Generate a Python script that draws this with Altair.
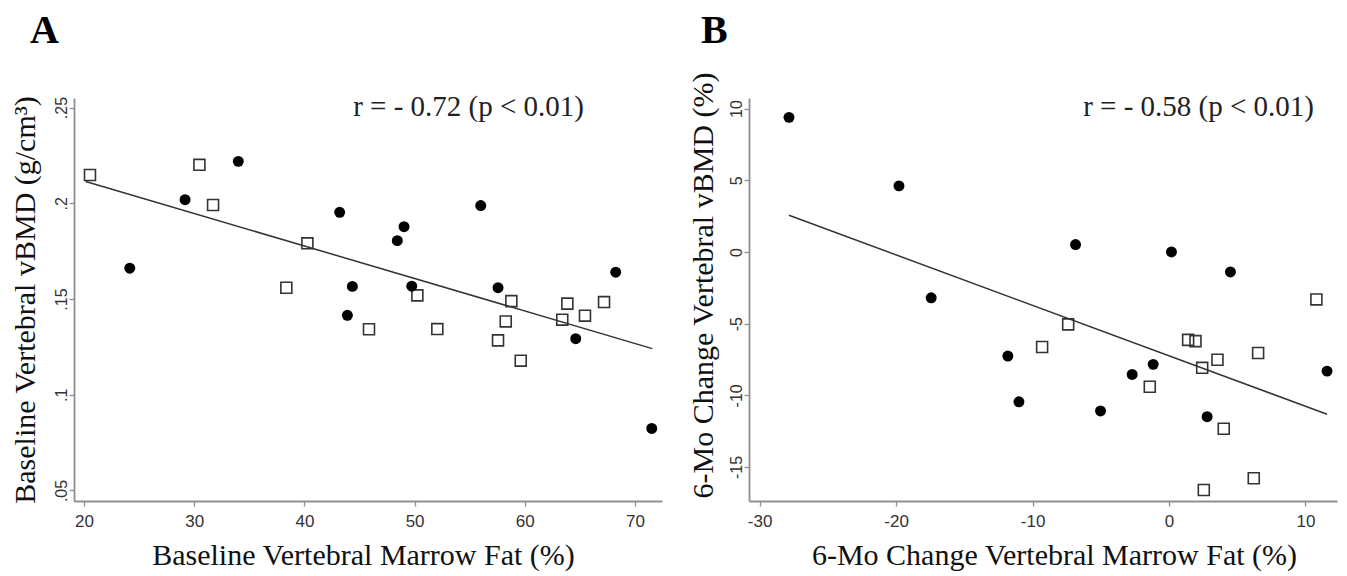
import altair as alt
import pandas as pd

# ---------------- Panel A data ----------------
a_circle_x = [24.15, 29.17, 34.0, 43.2, 43.9, 44.35, 48.43, 49.04, 49.74, 56.0, 57.57, 64.62, 68.25, 71.52]
a_circle_y = [0.1661, 0.2019, 0.2219, 0.1953, 0.1415, 0.1566, 0.1805, 0.1878, 0.1567, 0.1988, 0.1559, 0.1293, 0.164, 0.0824]
a_square_x = [20.54, 30.47, 31.71, 38.36, 40.27, 45.86, 50.25, 52.06, 57.57, 58.27, 58.78, 59.63, 63.4, 63.86, 65.46, 67.19]
a_square_y = [0.2148, 0.2201, 0.1991, 0.1559, 0.1791, 0.1342, 0.1519, 0.1343, 0.1284, 0.1383, 0.1489, 0.1178, 0.1392, 0.1476, 0.1413, 0.1484]
a_fit_x = [20.15, 71.57]
a_fit_y = [0.2114, 0.1241]
a_x_ticks = [20, 30, 40, 50, 60, 70]
a_x_labels = ["20", "30", "40", "50", "60", "70"]
a_y_ticks = [0.05, 0.1, 0.15, 0.2, 0.25]
a_y_labels = [".05", ".1", ".15", ".2", ".25"]
a_x_title = "Baseline Vertebral Marrow Fat (%)"
a_y_title = "Baseline Vertebral vBMD (g/cm\u00b3)"
a_note = "r = - 0.72 (p < 0.01)"

# ---------------- Panel B data ----------------
b_circle_x = [-27.85, -19.79, -17.43, -11.81, -11.0, -6.85, -5.02, -2.70, -1.16, 0.18, 2.79, 4.5, 11.58]
b_circle_y = [9.39, 4.61, -3.2, -7.26, -10.45, 0.52, -11.09, -8.54, -7.84, 0.0, -11.49, -1.39, -8.31]
b_square_x = [-9.3, -7.39, -1.41, 1.4, 1.94, 2.43, 2.55, 3.55, 4.01, 6.21, 6.53, 10.8]
b_square_y = [-6.63, -5.05, -9.4, -6.13, -6.22, -8.08, -16.6, -7.52, -12.33, -15.78, -7.05, -3.31]
b_fit_x = [-27.85, 11.58]
b_fit_y = [2.56, -11.32]
b_x_ticks = [-30, -20, -10, 0, 10]
b_x_labels = ["-30", "-20", "-10", "0", "10"]
b_y_ticks = [-15, -10, -5, 0, 5, 10]
b_y_labels = ["-15", "-10", "-5", "0", "5", "10"]
b_x_title = "6-Mo Change Vertebral Marrow Fat (%)"
b_y_title = "6-Mo Change Vertebral vBMD (%)"
b_note = "r = - 0.58 (p < 0.01)"

SERIF = "Liberation Serif"
SANS = "Liberation Sans"
W, H = 588, 403


def label_expr(ticks, labels):
    expr = "''"
    for t, l in reversed(list(zip(ticks, labels))):
        expr = f"datum.value == {t} ? '{l}' : ({expr})"
    return expr


def panel(cx, cy, sx, sy, fx, fy, xdom, ydom, xt, xl, yt, yl,
          xtitle, ytitle, note, letter, xtitle_x, ytitle_x, ytitle_y,
          note_x, letter_x):
    rows = []
    rows += [{"x": a, "y": b, "kind": "c"} for a, b in zip(cx, cy)]
    rows += [{"x": a, "y": b, "kind": "s"} for a, b in zip(sx, sy)]
    rows += [{"x": a, "y": b, "kind": "f"} for a, b in zip(fx, fy)]
    df = pd.DataFrame(rows)

    x_enc = alt.X("x:Q",
                  scale=alt.Scale(domain=xdom, nice=False, zero=False),
                  axis=alt.Axis(values=xt, labelExpr=label_expr(xt, xl),
                                title=xtitle, grid=False,
                                domainColor="#8f8f8f", domainWidth=1.8,
                                tickColor="#8f8f8f", tickWidth=1.3, tickSize=5,
                                labelFont=SANS, labelFontSize=17, labelColor="#333",
                                labelPadding=7, labelBaseline="top",
                                titleFont=SERIF, titleFontSize=30,
                                titleFontWeight="normal", titleColor="#111",
                                titleX=xtitle_x, titleY=63,
                                titleAlign="center", titleBaseline="alphabetic"))
    y_enc = alt.Y("y:Q",
                  scale=alt.Scale(domain=ydom, nice=False, zero=False),
                  axis=alt.Axis(values=yt, labelExpr=label_expr(yt, yl),
                                title=ytitle, grid=False,
                                domainColor="#8f8f8f", domainWidth=1.8,
                                tickColor="#8f8f8f", tickWidth=1.3, tickSize=5,
                                labelFont=SANS, labelFontSize=16, labelColor="#333",
                                labelAngle=270, labelAlign="center",
                                labelBaseline="alphabetic", labelPadding=3,
                                titleFont=SERIF, titleFontSize=30,
                                titleFontWeight="normal", titleColor="#111",
                                titleAngle=270, titleX=ytitle_x, titleY=ytitle_y,
                                titleAlign="center", titleBaseline="alphabetic"))
    base = alt.Chart(df).encode(x=x_enc, y=y_enc)
    fit = base.transform_filter("datum.kind == 'f'").mark_line(
        color="#333", strokeWidth=1.5)
    squares = base.transform_filter("datum.kind == 's'").mark_point(
        shape="square", filled=False, size=120, color="#333", strokeWidth=1.6,
        opacity=1)
    circles = base.transform_filter("datum.kind == 'c'").mark_point(
        shape="circle", filled=True, size=120, color="#000", opacity=1)

    note_layer = alt.Chart(pd.DataFrame({"t": [note]})).mark_text(
        font=SERIF, fontSize=29, color="#222", align="right",
        baseline="alphabetic").encode(
        text="t:N", x=alt.value(note_x), y=alt.value(18))
    letter_layer = alt.Chart(pd.DataFrame({"t": [letter]})).mark_text(
        font=SERIF, fontSize=40, fontWeight="bold", color="#000", align="left",
        baseline="alphabetic").encode(
        text="t:N", x=alt.value(letter_x), y=alt.value(-55))
    return alt.layer(fit, squares, circles, note_layer, letter_layer).properties(
        width=W, height=H)


pa = panel(a_circle_x, a_circle_y, a_square_x, a_square_y, a_fit_x, a_fit_y,
           [19.09, 72.45], [0.0445, 0.255], a_x_ticks, a_x_labels,
           a_y_ticks, a_y_labels, a_x_title, a_y_title, a_note, "A",
           289, -40, 201.5, 510, -44)
pb = panel(b_circle_x, b_circle_y, b_square_x, b_square_y, b_fit_x, b_fit_y,
           [-30.78, 12.31], [-17.37, 10.74], b_x_ticks, b_x_labels,
           b_y_ticks, b_y_labels, b_x_title, b_y_title, b_note, "B",
           305, -37, 187, 565, -48)

chart = alt.hconcat(pa, pb, spacing=87, bounds="flush").properties(
    padding={"left": 1, "top": 2, "right": 0, "bottom": 0},
    background="white",
).configure_view(stroke="transparent")

chart.save("out.html", embed_options={"renderer": "svg", "actions": False})
